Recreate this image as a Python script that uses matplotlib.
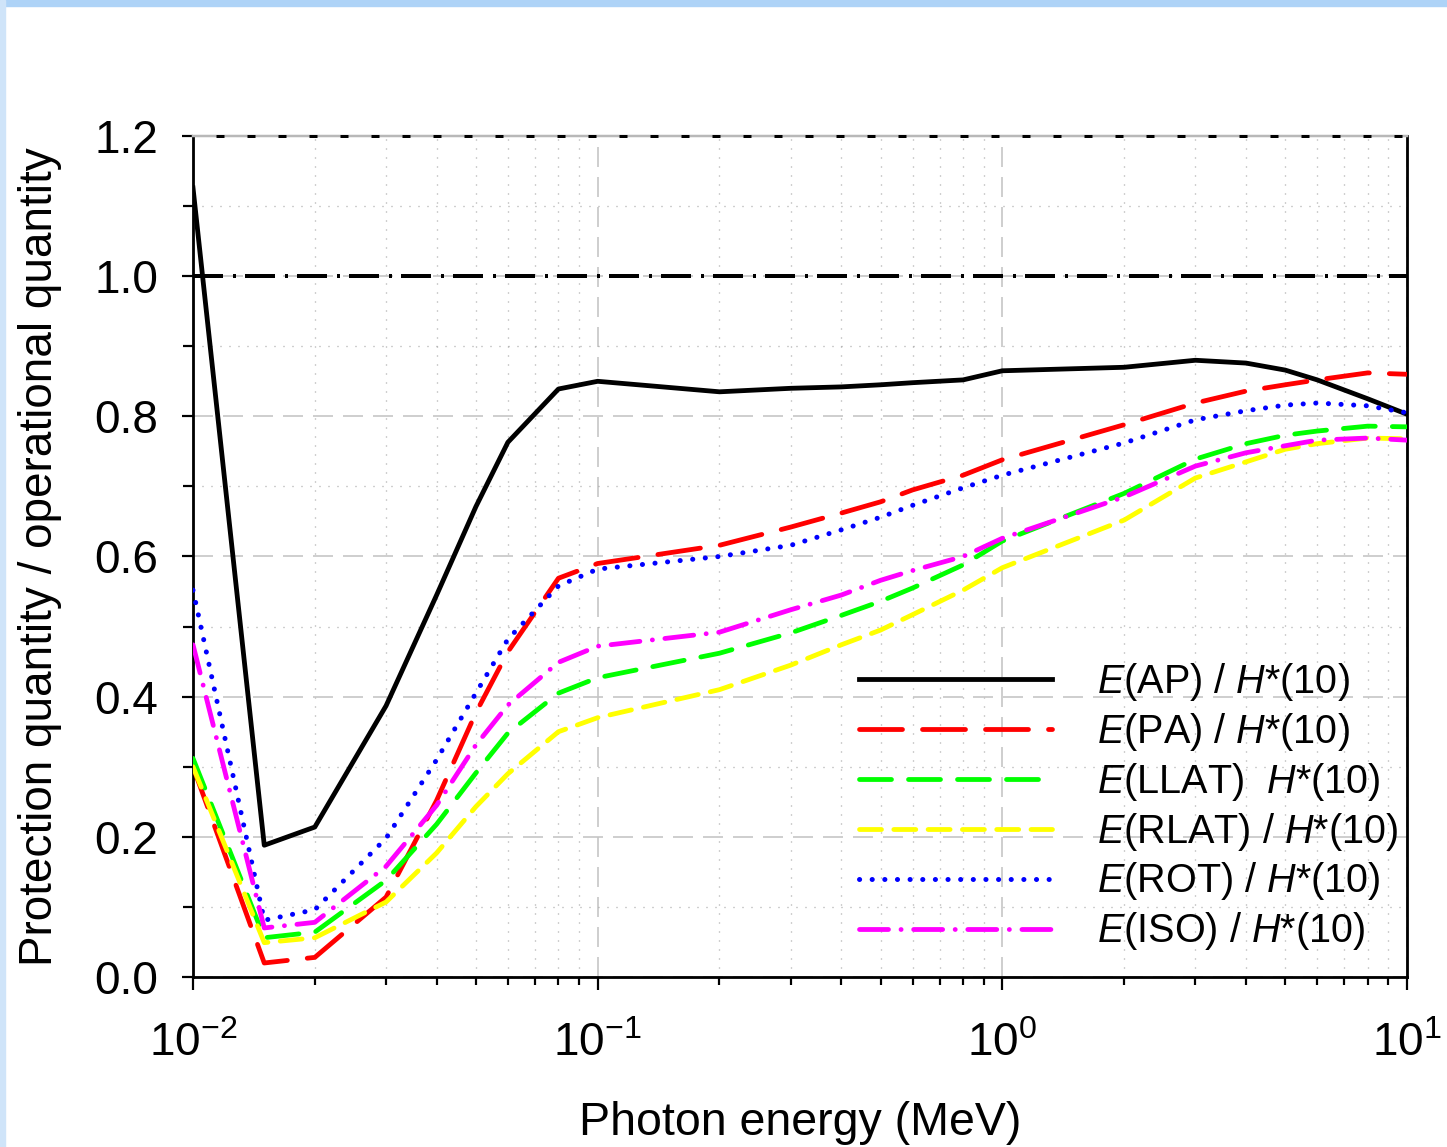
import numpy as np
import matplotlib
matplotlib.use("Agg")
import matplotlib.pyplot as plt
from matplotlib.ticker import LogLocator, MultipleLocator, FormatStrFormatter, NullFormatter
from matplotlib.patches import Rectangle

plt.rcParams['font.family'] = ['Liberation Sans', 'DejaVu Sans']
plt.rcParams['mathtext.fontset'] = 'custom'
plt.rcParams['mathtext.rm'] = 'Liberation Sans'
plt.rcParams['mathtext.it'] = 'Liberation Sans:italic'
plt.rcParams['axes.unicode_minus'] = False
plt.rcParams['lines.scale_dashes'] = False

# photon energies (MeV)
energy = [0.01, 0.015, 0.02, 0.03, 0.04, 0.05, 0.06, 0.08, 0.1, 0.2, 0.3, 0.4,
          0.5, 0.6, 0.8, 1.0, 2.0, 3.0, 4.0, 5.0, 6.0, 8.0, 10.0]

# E / H*(10) for each irradiation geometry
ratio_ap = [1.126, 0.188, 0.214, 0.387, 0.545, 0.671, 0.763, 0.839, 0.850, 0.835, 0.840, 0.842,
            0.845, 0.848, 0.852, 0.865, 0.870, 0.880, 0.876, 0.866, 0.852, 0.825, 0.803]
ratio_pa = [0.300, 0.020, 0.028, 0.114, 0.252, 0.377, 0.464, 0.569, 0.590, 0.616, 0.642, 0.662,
            0.678, 0.695, 0.716, 0.738, 0.788, 0.819, 0.836, 0.845, 0.852, 0.862, 0.860]
ratio_llat = [0.312, 0.056, 0.064, 0.138, 0.218, 0.291, 0.348, 0.405, 0.427, 0.462, 0.491, 0.516,
              0.536, 0.555, 0.588, 0.622, 0.690, 0.739, 0.761, 0.773, 0.779, 0.786, 0.785]
ratio_rlat = [0.300, 0.049, 0.056, 0.107, 0.177, 0.243, 0.290, 0.350, 0.370, 0.410, 0.445, 0.474,
              0.495, 0.517, 0.552, 0.584, 0.652, 0.712, 0.735, 0.753, 0.761, 0.769, 0.768]
ratio_rot = [0.552, 0.081, 0.096, 0.198, 0.310, 0.405, 0.482, 0.558, 0.582, 0.600, 0.616, 0.638,
             0.656, 0.673, 0.698, 0.716, 0.762, 0.795, 0.808, 0.816, 0.819, 0.815, 0.805]
ratio_iso = [0.474, 0.070, 0.078, 0.158, 0.245, 0.331, 0.388, 0.449, 0.472, 0.492, 0.524, 0.545,
             0.566, 0.580, 0.600, 0.626, 0.685, 0.729, 0.748, 0.758, 0.766, 0.769, 0.766]

labels = [r'$\mathit{E}$(AP) / $\mathit{H}$*(10)',
          r'$\mathit{E}$(PA) / $\mathit{H}$*(10)',
          r'$\mathit{E}$(LLAT)  $\mathit{H}$*(10)',
          r'$\mathit{E}$(RLAT) / $\mathit{H}$*(10)',
          r'$\mathit{E}$(ROT) / $\mathit{H}$*(10)',
          r'$\mathit{E}$(ISO) / $\mathit{H}$*(10)']
ref_level = 1.0

px = 0.72  # points per pixel at dpi 100

fig = plt.figure(figsize=(14.47, 11.47), dpi=100)
# light blue frame strips
fig.patches.append(Rectangle((0, 1 - 6 / 1147), 1, 6 / 1147, transform=fig.transFigure,
                             color='#aed3f7', zorder=0))
fig.patches.append(Rectangle((0, 0), 5 / 1447, 1, transform=fig.transFigure,
                             color='#cfe4f9', zorder=0))

ax = fig.add_axes([193 / 1447, 170 / 1147, 1214 / 1447, 841 / 1147])
ax.set_xscale('log')
ax.set_xlim(0.01, 10)
ax.set_ylim(0, 1.2)

# grid
ax.xaxis.set_major_locator(LogLocator(base=10))
ax.xaxis.set_minor_locator(LogLocator(base=10, subs=np.arange(2, 10)))
ax.xaxis.set_minor_formatter(NullFormatter())
ax.yaxis.set_major_locator(MultipleLocator(0.2))
ax.yaxis.set_minor_locator(MultipleLocator(0.1))
ax.yaxis.set_major_formatter(FormatStrFormatter('%.1f'))
ax.grid(which='major', color='#c4c4c4', lw=1.6 * px, linestyle=(0, (20 * px, 10 * px)))
ax.grid(which='minor', color='#a0a0a0', lw=1.3 * px, linestyle=(0, (1 * px, 8 * px)))
ax.set_axisbelow(True)

lw = 4.8 * px
ax.axhline(ref_level, color='black', lw=4 * px,
           linestyle=(0, (30 * px, 10 * px, 3 * px, 9 * px)), zorder=2)
ax.plot(energy, ratio_ap, color='black', lw=lw, solid_joinstyle='round', label=labels[0], zorder=3)
ax.plot(energy, ratio_pa, color='#ff0000', lw=lw, dashes=(43 * px, 20 * px),
        dash_capstyle='round', label=labels[1], zorder=3)
ax.plot(energy, ratio_llat, color='#00ff00', lw=lw, dashes=(32 * px, 17 * px),
        dash_capstyle='round', label=labels[2], zorder=3)
ax.plot(energy, ratio_rlat, color='#ffff00', lw=lw, dashes=(22 * px, 12.3 * px),
        dash_capstyle='round', label=labels[3], zorder=3)
ax.plot(energy, ratio_rot, color='#0000ff', lw=5 * px, dashes=(0.1, 12.5 * px),
        dash_capstyle='round', label=labels[4], zorder=3)
ax.plot(energy, ratio_iso, color='#ff00ff', lw=lw, dashes=(29 * px, 12.5 * px, 0.1, 12.5 * px),
        dash_capstyle='round', label=labels[5], zorder=3)

# spines
for side in ['left', 'bottom', 'right']:
    ax.spines[side].set_color('black')
    ax.spines[side].set_linewidth(2.8 * px)
ax.spines['top'].set_color('#b8b8b8')
ax.spines['top'].set_linewidth(2.5 * px)
ax.axhline(1.2, color='black', lw=3 * px, linestyle=(8 * px, (8 * px, 23 * px)),
           clip_on=False, zorder=4)

ax.tick_params(axis='both', which='both', direction='out', top=False, right=False,
               width=2.2 * px, colors='black')
ax.tick_params(axis='x', which='major', length=13 * px, labelsize=33, pad=32 * px)
ax.tick_params(axis='x', which='minor', length=8 * px)
ax.tick_params(axis='y', which='major', length=11 * px, labelsize=33, pad=24 * px)
ax.tick_params(axis='y', which='minor', length=10 * px)

ax.set_xlabel('Photon energy (MeV)', fontsize=33.5)
ax.set_ylabel('Protection quantity / operational quantity', fontsize=33)
ax.xaxis.set_label_coords(0.5, -0.147)
ax.yaxis.set_label_coords(-0.108, 0.5)

ax.legend(loc='upper left', bbox_to_anchor=(0.5486, 0.376), frameon=False, fontsize=28.5,
          handlelength=4.87, handletextpad=1.14, labelspacing=0.2, borderpad=0, borderaxespad=0)

fig.savefig('out.png', dpi=100)
